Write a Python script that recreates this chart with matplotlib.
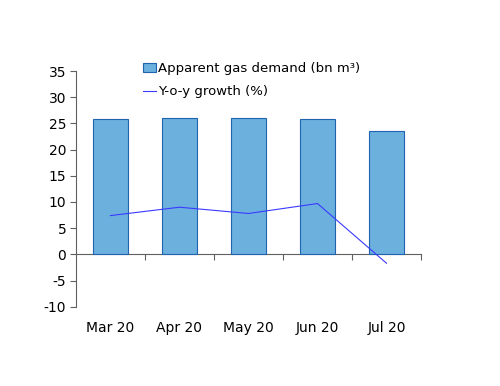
import matplotlib.pyplot as plt
from matplotlib.patches import Patch
from matplotlib.lines import Line2D

plt.rcParams["axes.unicode_minus"] = False

months = ["Mar 20", "Apr 20", "May 20", "Jun 20", "Jul 20"]
demand = [25.8, 26.1, 26.0, 25.9, 23.6]      # bn m3
growth = [7.4, 9.0, 7.8, 9.7, -1.7]          # %

bar_face = "#6cb0de"
bar_edge = "#1f64b0"
line_col = "#3a3aff"
axis_col = "#606060"

fig = plt.figure(figsize=(5, 3.86), dpi=100)
ax = fig.add_axes([0.152, 0.2054, 0.69, 0.6106])

x = list(range(len(months)))
ax.bar(x, demand, width=0.5, color=bar_face, edgecolor=bar_edge, linewidth=0.8, zorder=2)
ax.plot(x, growth, color=line_col, linewidth=0.8, zorder=3)

ax.set_xlim(-0.5, len(months) - 0.5)
ax.set_ylim(-10, 35)
ax.set_yticks(range(-10, 36, 5))

for s in ["top", "right"]:
    ax.spines[s].set_visible(False)
ax.spines["bottom"].set_position(("data", 0))
ax.spines["bottom"].set_color(axis_col)
ax.spines["left"].set_color(axis_col)
ax.spines["bottom"].set_zorder(1)

# category boundary ticks on the zero line
ax.set_xticks([i + 0.5 for i in x])
ax.tick_params(axis="x", length=4, direction="out", color=axis_col, labelbottom=False)
ax.tick_params(axis="y", length=4, direction="out", color=axis_col, labelsize=10, pad=3)

# month labels below the plot area
sec = ax.secondary_xaxis(-0.04)
sec.set_xticks(x)
sec.set_xticklabels(months, fontsize=10)
sec.tick_params(length=0)
sec.spines["bottom"].set_visible(False)

handles = [
    Patch(facecolor=bar_face, edgecolor=bar_edge, linewidth=0.8),
    Line2D([0], [0], color=line_col, linewidth=0.8),
]
fig.legend(handles, ["Apparent gas demand (bn m³)", "Y-o-y growth (%)"],
           loc="upper left", bbox_to_anchor=(0.275, 0.852), frameon=False,
           fontsize=9.5, handlelength=1.0, handletextpad=0.15, labelspacing=0.75,
           borderaxespad=0)

fig.savefig("out.png", dpi=100)
